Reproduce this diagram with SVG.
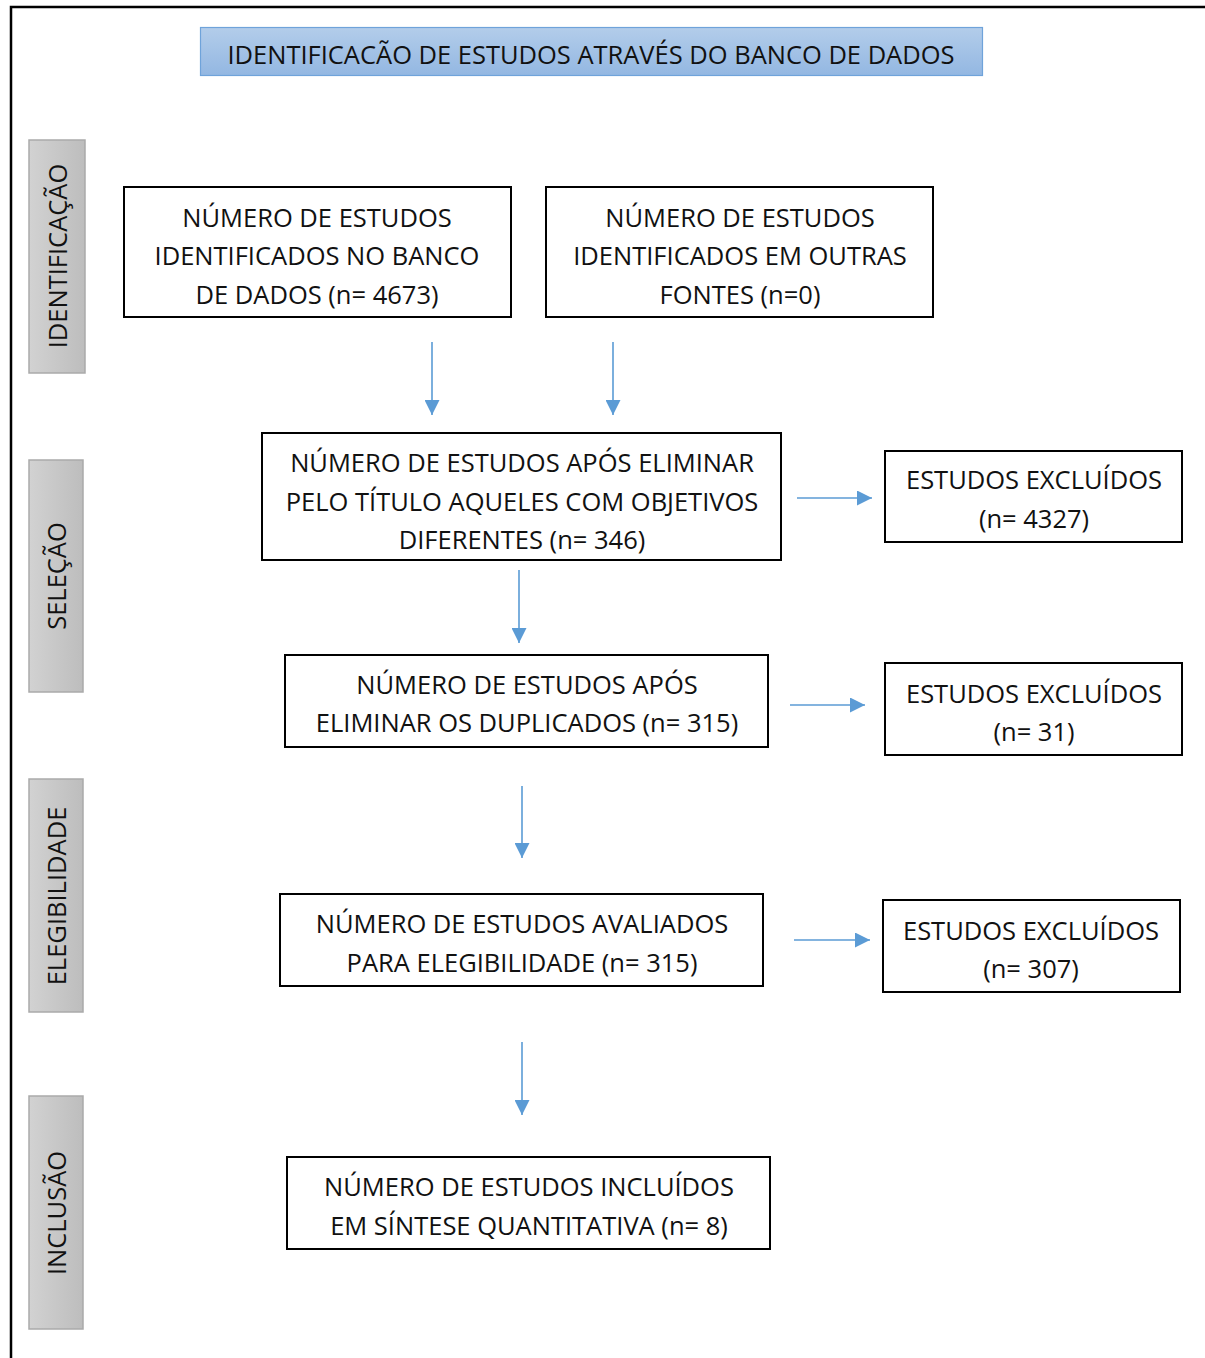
<svg xmlns="http://www.w3.org/2000/svg" width="1205" height="1358" viewBox="0 0 1205 1358">
<defs>
<linearGradient id="gBlue" x1="0" y1="0" x2="0" y2="1"><stop offset="0" stop-color="#b3cdea"/><stop offset="1" stop-color="#93b7e2"/></linearGradient>
<linearGradient id="gGray" x1="0" y1="0" x2="1" y2="0"><stop offset="0" stop-color="#d2d2d2"/><stop offset="1" stop-color="#bdbdbd"/></linearGradient>
<marker id="ah" viewBox="0 0 10 10" refX="10" refY="5" markerWidth="15" markerHeight="15" markerUnits="userSpaceOnUse" orient="auto"><path d="M0,0 L10,5 L0,10 Z" fill="#5b9bd5"/></marker>
<style>
text{font-family:"Open Sans","Noto Sans","Liberation Sans",sans-serif;font-size:25.5px;fill:#111;text-anchor:middle}
.box{fill:#fff;stroke:#000;stroke-width:2}
.side{fill:url(#gGray);stroke:#aaaaaa;stroke-width:1.5}
.conn line{stroke:#5b9bd5;stroke-width:1.6;marker-end:url(#ah)}
</style>
</defs>
<rect width="1205" height="1358" fill="#fff"/>
<path d="M11,1358 V7 H1205" fill="none" stroke="#000" stroke-width="2.5"/>
<g id="header"><rect x="200.5" y="27.5" width="782" height="48" fill="url(#gBlue)" stroke="#6fa3da" stroke-width="1.2"/><text x="591" y="64" textLength="727" lengthAdjust="spacingAndGlyphs">IDENTIFICACÃO DE ESTUDOS ATRAVÉS DO BANCO DE DADOS</text></g>
<g id="side-identificacao"><rect class="side" x="29" y="140" width="56" height="233"/><text transform="translate(67,256) rotate(-90)">IDENTIFICAÇÃO</text></g>
<g id="side-selecao"><rect class="side" x="29" y="460" width="54" height="232"/><text transform="translate(66,576) rotate(-90)">SELEÇÃO</text></g>
<g id="side-elegibilidade"><rect class="side" x="29" y="779" width="54" height="233"/><text transform="translate(66,896) rotate(-90)">ELEGIBILIDADE</text></g>
<g id="side-inclusao"><rect class="side" x="29" y="1096" width="54" height="233"/><text transform="translate(66,1213) rotate(-90)">INCLUSÃO</text></g>
<g id="n1"><rect class="box" x="124" y="187" width="387" height="130"/><text x="317" y="227">NÚMERO DE ESTUDOS</text><text x="317" y="265">IDENTIFICADOS NO BANCO</text><text x="317" y="304">DE DADOS (n= 4673)</text></g>
<g id="n2"><rect class="box" x="546" y="187" width="387" height="130"/><text x="740" y="227">NÚMERO DE ESTUDOS</text><text x="740" y="265">IDENTIFICADOS EM OUTRAS</text><text x="740" y="304">FONTES (n=0)</text></g>
<g id="n3"><rect class="box" x="262" y="433" width="519" height="127"/><text x="522" y="472">NÚMERO DE ESTUDOS APÓS ELIMINAR</text><text x="522" y="511">PELO TÍTULO AQUELES COM OBJETIVOS</text><text x="522" y="549">DIFERENTES (n= 346)</text></g>
<g id="x1"><rect class="box" x="885" y="451" width="297" height="91"/><text x="1034" y="489">ESTUDOS EXCLUÍDOS</text><text x="1034" y="528">(n= 4327)</text></g>
<g id="n4"><rect class="box" x="285" y="655" width="483" height="92"/><text x="527" y="694">NÚMERO DE ESTUDOS APÓS</text><text x="527" y="732">ELIMINAR OS DUPLICADOS (n= 315)</text></g>
<g id="x2"><rect class="box" x="885" y="663" width="297" height="92"/><text x="1034" y="703">ESTUDOS EXCLUÍDOS</text><text x="1034" y="741">(n= 31)</text></g>
<g id="n5"><rect class="box" x="280" y="894" width="483" height="92"/><text x="522" y="933">NÚMERO DE ESTUDOS AVALIADOS</text><text x="522" y="972">PARA ELEGIBILIDADE (n= 315)</text></g>
<g id="x3"><rect class="box" x="883" y="900" width="297" height="92"/><text x="1031" y="940">ESTUDOS EXCLUÍDOS</text><text x="1031" y="978">(n= 307)</text></g>
<g id="n6"><rect class="box" x="287" y="1157" width="483" height="92"/><text x="529" y="1196">NÚMERO DE ESTUDOS INCLUÍDOS</text><text x="529" y="1235">EM SÍNTESE QUANTITATIVA (n= 8)</text></g>
<g id="connectors" class="conn">
<line x1="432" y1="342" x2="432" y2="415"/>
<line x1="613" y1="342" x2="613" y2="415"/>
<line x1="519" y1="570" x2="519" y2="643"/>
<line x1="522" y1="786" x2="522" y2="858"/>
<line x1="522" y1="1042" x2="522" y2="1115"/>
<line x1="797" y1="498" x2="872" y2="498"/>
<line x1="790" y1="705" x2="865" y2="705"/>
<line x1="794" y1="940" x2="870" y2="940"/>
</g>
</svg>
